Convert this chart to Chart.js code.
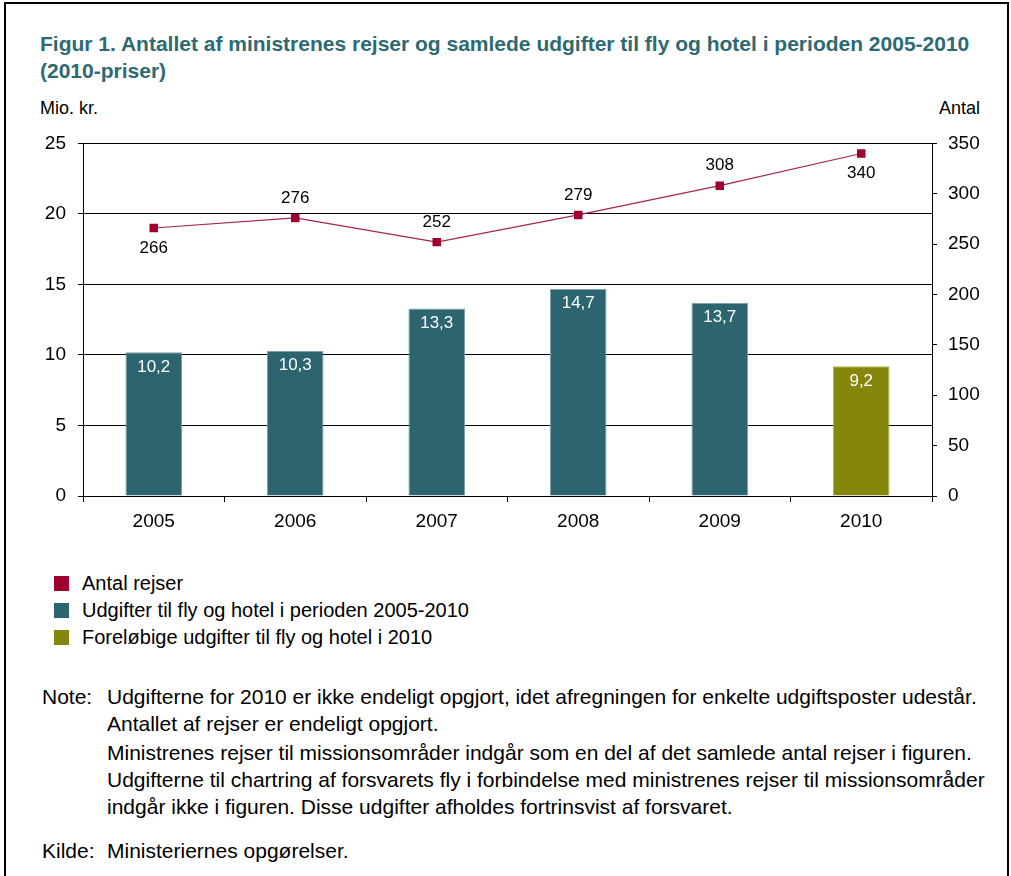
<!DOCTYPE html>
<html>
<head>
<meta charset="utf-8">
<script src="https://cdn.jsdelivr.net/npm/chart.js@4/dist/chart.umd.min.js"></script>
<style>
  html, body { margin: 0; padding: 0; background: #fff; }
  body { width: 1011px; height: 876px; position: relative; overflow: hidden;
         font-family: "Liberation Sans", Arial, sans-serif; color: #000; }
  #frame { position: absolute; left: 4px; top: 2px; width: 1001px; height: 900px;
           border: 2px solid #000; border-bottom: none; }
  .abs { position: absolute; white-space: nowrap; }
  #title { left: 40px; top: 30px; font-size: 21px; font-weight: bold; color: #2E6A72; line-height: 27px; }
  #unitL { left: 40px; top: 98px; font-size: 18px; }
  #unitR { right: 31px; top: 98px; font-size: 18px; }
  #chart { position: absolute; left: 0; top: 120px; }
  #legend { left: 54px; top: 570px; font-size: 20px; }
  #legend div { height: 27px; line-height: 27px; }
  #legend span.box { display: inline-block; width: 15px; height: 15px; margin-right: 13px; vertical-align: -1px; }
  .note { font-size: 21px; line-height: 27px; }
  .note .lab { position: absolute; left: 0; }
  .note .txt { position: absolute; left: 65px; }
</style>
</head>
<body>
<div id="frame"></div>
<div id="title" class="abs">Figur 1. Antallet af ministrenes rejser og samlede udgifter til fly og hotel i perioden 2005-2010<br>(2010-priser)</div>
<div id="unitL" class="abs">Mio. kr.</div>
<div id="unitR" class="abs">Antal</div>
<canvas id="chart" width="1011" height="430"></canvas>
<div id="legend" class="abs"></div>
<div class="abs note" style="left:42px; top:683px;">
  <span class="lab">Note:</span>
  <div class="txt">Udgifterne for 2010 er ikke endeligt opgjort, idet afregningen for enkelte udgiftsposter udestår.<br>
  Antallet af rejser er endeligt opgjort.</div>
  <div class="txt" style="top:56px;">Ministrenes rejser til missionsområder indgår som en del af det samlede antal rejser i figuren.<br>
  Udgifterne til chartring af forsvarets fly i forbindelse med ministrenes rejser til missionsområder<br>
  indgår ikke i figuren. Disse udgifter afholdes fortrinsvist af forsvaret.</div>
</div>
<div class="abs note" style="left:42px; top:837px;">
  <span class="lab">Kilde:</span>
  <div class="txt">Ministeriernes opgørelser.</div>
</div>

<script>
// Data
const years = ['2005', '2006', '2007', '2008', '2009', '2010'];
const udgifter = [10.2, 10.3, 13.3, 14.7, 13.7, 9.2];    // Mio. kr.
const foreloebig = [false, false, false, false, false, true];
const rejser = [266, 276, 252, 279, 308, 340];          // Antal
const rejserLabelPos = ['below', 'above', 'above', 'above', 'above', 'below'];
const leftTicks = [0, 5, 10, 15, 20, 25];
const rightTicks = [0, 50, 100, 150, 200, 250, 300, 350];
const legendLabels = ['Antal rejser', 'Udgifter til fly og hotel i perioden 2005-2010', 'Foreløbige udgifter til fly og hotel i 2010'];

const TEAL = '#2C6470';
const OLIVE = '#85870C';
const CRIMSON = '#A0002F';
const FONT = '"Liberation Sans", Arial, sans-serif';

// Legend (HTML)
const legendColors = [CRIMSON, TEAL, OLIVE];
document.getElementById('legend').innerHTML = legendLabels.map((l, i) =>
  `<div><span class="box" style="background:${legendColors[i]}"></span>${l}</div>`).join('');

const fmt = v => v.toFixed(1).replace('.', ',');

// Data labels
const valueLabels = {
  id: 'valueLabels',
  afterDatasetsDraw(chart) {
    const ctx = chart.ctx;
    ctx.save();
    ctx.font = '17px ' + FONT;
    ctx.textAlign = 'center';
    ctx.textBaseline = 'middle';
    chart.getDatasetMeta(0).data.forEach((bar, i) => {
      ctx.fillStyle = '#fff';
      ctx.fillText(fmt(udgifter[i]), bar.x, bar.y + 15);
    });
    chart.getDatasetMeta(1).data.forEach((pt, i) => {
      ctx.fillStyle = '#000';
      const dy = rejserLabelPos[i] === 'above' ? -20 : 20;
      ctx.fillText(String(rejser[i]), pt.x, pt.y + dy);
    });
    ctx.restore();
  }
};

new Chart(document.getElementById('chart'), {
  data: {
    labels: years,
    datasets: [{
      type: 'bar',
      label: legendLabels[1],
      data: udgifter,
      yAxisID: 'y',
      backgroundColor: foreloebig.map(f => f ? OLIVE : TEAL),
      borderColor: foreloebig.map(f => f ? '#B5B640' : '#7FA0A8'),
      borderWidth: { top: 1, left: 1, right: 1, bottom: 0 },
      barPercentage: 0.4,
      categoryPercentage: 1.0,
      order: 2
    }, {
      type: 'line',
      label: legendLabels[0],
      data: rejser,
      yAxisID: 'y1',
      borderColor: '#A8234F',
      borderWidth: 1.2,
      pointStyle: 'rect',
      pointRadius: 6,
      pointBorderWidth: 0,
      pointBackgroundColor: CRIMSON,
      tension: 0,
      order: 1
    }]
  },
  options: {
    responsive: false,
    animation: false,
    layout: { padding: { top: 21, left: 0, right: 0, bottom: 0 } },
    plugins: {
      legend: { display: false },
      tooltip: { enabled: false }
    },
    scales: {
      x: {
        offset: true,
        grid: { offset: true, drawOnChartArea: false, drawTicks: true, tickLength: 6, color: '#000' },
        border: { color: '#000' },
        ticks: { color: '#000', font: { family: FONT, size: 19 }, padding: 8 },
        afterFit: s => { s.height = 54; }
      },
      y: {
        position: 'left',
        min: 0, max: 25,
        afterBuildTicks: s => { s.ticks = leftTicks.map(v => ({ value: v })); },
        grid: { color: '#000', lineWidth: 1, tickLength: 5 },
        border: { color: '#000' },
        ticks: { color: '#000', font: { family: FONT, size: 19 }, padding: 12 },
        afterFit: s => { s.width = 83; }
      },
      y1: {
        position: 'right',
        min: 0, max: 350,
        afterBuildTicks: s => { s.ticks = rightTicks.map(v => ({ value: v })); },
        grid: { drawOnChartArea: false, color: '#000', tickLength: 5 },
        border: { color: '#000' },
        ticks: { color: '#000', font: { family: FONT, size: 19 }, padding: 11 },
        afterFit: s => { s.width = 79; }
      }
    }
  },
  plugins: [valueLabels]
});
</script>
</body>
</html>
